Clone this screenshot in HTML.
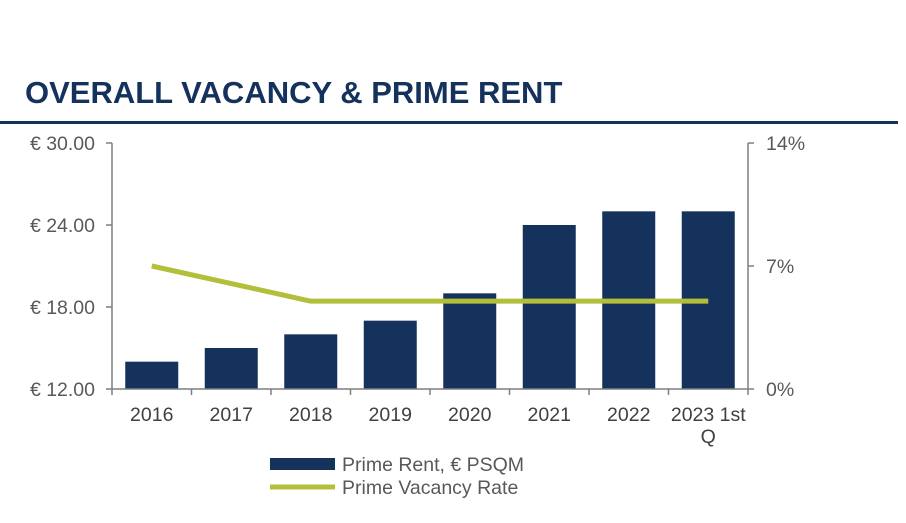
<!DOCTYPE html>
<html><head><meta charset="utf-8"><style>
body{margin:0;background:#fff;width:906px;height:518px;overflow:hidden;font-family:"Liberation Sans",sans-serif}
</style></head><body>
<svg width="906" height="518">
<text x="25" y="103" font-size="31" font-weight="bold" fill="#15325c">OVERALL VACANCY &amp; PRIME RENT</text>
<rect x="0" y="121" width="898" height="3" fill="#15325c"/>
<g id="plot"></g>
<g>
<rect x="270" y="458" width="65" height="12" fill="#15325c"/>
<text x="342" y="471" font-size="19.5" fill="#595959">Prime Rent, € PSQM</text>
<line x1="270" y1="487" x2="335" y2="487" stroke="#b3bf3a" stroke-width="5"/>
<text x="342" y="494" font-size="19.5" fill="#595959">Prime Vacancy Rate</text>
</g>
</svg>
<script>
const categories=["2016","2017","2018","2019","2020","2021","2022","2023 1st Q"];
const rentValues=[14,15,16,17,19,24,25,25];
const vacancyValues=[7,6,5,5,5,5,5,5];
const leftTicks=[12,18,24,30];
const leftTickLabels=["€ 12.00","€ 18.00","€ 24.00","€ 30.00"];
const rightTicks=[0,7,14];
const rightTickLabels=["0%","7%","14%"];
const NS="http://www.w3.org/2000/svg";
const g=document.getElementById('plot');
const X0=112,X1=748,Y0=389,Y1=143;
const step=(X1-X0)/categories.length;
const xc=i=>X0+step*(i+0.5);
const yL=v=>Y0-(v-12)/18*(Y0-Y1);
const yR=v=>Y0-v/14*(Y0-Y1);
function mk(t,a,txt){const e=document.createElementNS(NS,t);for(const k in a)e.setAttribute(k,a[k]);if(txt!=null)e.textContent=txt;g.appendChild(e);return e;}
rentValues.forEach((v,i)=>{
const r=mk('rect',{x:xc(i)-26.5,y:yL(v),width:53,height:Y0-yL(v),fill:'#15325c'});


});
const ax=mk('line',{x1:X0,y1:Y1,x2:X0,y2:Y0,stroke:'#7f7f7f','stroke-width':1.5});

const ax2=mk('line',{x1:X1,y1:Y1,x2:X1,y2:Y0,stroke:'#7f7f7f','stroke-width':1.5});

const ax3=mk('line',{x1:X0,y1:Y0,x2:X1,y2:Y0,stroke:'#7f7f7f','stroke-width':1.5});

for(let i=0;i<=categories.length;i++){mk('line',{x1:X0+step*i,y1:Y0,x2:X0+step*i,y2:Y0+6,stroke:'#7f7f7f','stroke-width':1.5});}
leftTicks.forEach((v,i)=>{
mk('line',{x1:X0-6,y1:yL(v),x2:X0,y2:yL(v),stroke:'#7f7f7f','stroke-width':1.5});
const t=mk('text',{x:X0-17,y:yL(v)+7,'text-anchor':'end','font-size':19.5,fill:'#595959'},leftTickLabels[i]);

});
rightTicks.forEach((v,i)=>{
mk('line',{x1:X1,y1:yR(v),x2:X1+6,y2:yR(v),stroke:'#7f7f7f','stroke-width':1.5});
const t=mk('text',{x:X1+18,y:yR(v)+7,'font-size':19.5,fill:'#595959'},rightTickLabels[i]);

});
categories.forEach((c,i)=>{
const parts=c==="2023 1st Q"?["2023 1st","Q"]:[c];
parts.forEach((p,j)=>{
const t=mk('text',{x:xc(i),y:421+j*22,'text-anchor':'middle','font-size':19.5,fill:'#404040'},p);

});
});
const pl=mk('polyline',{points:vacancyValues.map((v,i)=>xc(i)+','+yR(v)).join(' '),fill:'none',stroke:'#b3bf3a','stroke-width':5,'stroke-linejoin':'round'});

</script>
</body></html>
